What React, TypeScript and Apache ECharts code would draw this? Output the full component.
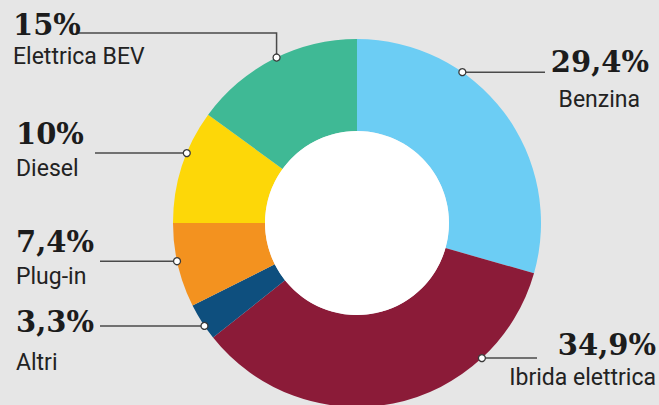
import React, { useEffect, useRef } from "react";
import * as echarts from "echarts";

// ---- data ----
const categories = ["Benzina", "Ibrida elettrica", "Altri", "Plug-in", "Diesel", "Elettrica BEV"];
const shares = [29.4, 34.9, 3.3, 7.4, 10, 15];
const shareLabels = ["29,4%", "34,9%", "3,3%", "7,4%", "10%", "15%"];

// ---- styles / layout ----
const colors = ["#6ccdf4", "#8b1b38", "#0e4f7e", "#f3921f", "#fdd708", "#3fb995"];
// where along each slice's outer arc the leader line is anchored (fraction of slice)
const anchorFractions = [0.33, 0.25, 0.38, 0.55, 0.62, 0.52];
type LabelLayout = {
  align: "left" | "right";
  lineX: number;
  pctX: number;
  nameX: number;
  pctY: number;
  nameY: number;
  elbowY?: number;
};
const labelLayouts: LabelLayout[] = [
  { align: "right", lineX: 545, pctX: 649, nameX: 640, pctY: 62, nameY: 99 },
  { align: "right", lineX: 537, pctX: 656, nameX: 656, pctY: 345, nameY: 377 },
  { align: "left", lineX: 100, pctX: 16, nameX: 16, pctY: 322, nameY: 362 },
  { align: "left", lineX: 100, pctX: 16, nameX: 16, pctY: 242, nameY: 276 },
  { align: "left", lineX: 95, pctX: 16, nameX: 16, pctY: 134, nameY: 168 },
  { align: "left", lineX: 77, pctX: 13, nameX: 13, pctY: 25, nameY: 56, elbowY: 33 },
];

const CENTER: [number, number] = [357, 223];
const R_OUT = 184;
const R_IN = 92;
const PCT_FONT = 'bold 29px "DejaVu Serif"';
const NAME_FONT = '23px Roboto';

export default function App() {
  const ref = useRef<HTMLDivElement>(null);

  useEffect(() => {
    document.body.style.margin = "0";
    const chart = echarts.init(ref.current!, null, { renderer: "svg" });
    chart.setOption({
      animation: false,
      backgroundColor: "#e6e6e6",
      series: [
        {
          type: "pie",
          center: CENTER,
          radius: [R_IN, R_OUT],
          startAngle: 90,
          clockwise: true,
          silent: true,
          label: { show: false },
          labelLine: { show: false },
          data: categories.map((c, i) => ({
            name: c,
            value: shares[i],
            itemStyle: { color: colors[i] },
          })),
        },
        {
          type: "pie",
          center: CENTER,
          radius: [0, R_IN],
          silent: true,
          label: { show: false },
          labelLine: { show: false },
          data: [{ name: "hole", value: 1, itemStyle: { color: "#ffffff" } }],
        },
      ],
    });

    let layouts: any[] = [];
    try {
      const data = (chart as any).getModel().getSeriesByIndex(0).getData();
      layouts = categories.map((_, i) => data.getItemLayout(i));
    } catch (e) {
      layouts = [];
    }

    const elements: any[] = [];
    categories.forEach((name, i) => {
      const lay = layouts[i];
      if (!lay) return;
      const a = lay.startAngle + (lay.endAngle - lay.startAngle) * anchorFractions[i];
      const px = lay.cx + lay.r * Math.cos(a);
      const py = lay.cy + lay.r * Math.sin(a);
      const L = labelLayouts[i];
      const pts =
        L.elbowY !== undefined
          ? [
              [L.lineX, L.elbowY],
              [px, L.elbowY],
              [px, py],
            ]
          : [
              [L.lineX, py],
              [px, py],
            ];
      elements.push({
        type: "polyline",
        z: 100,
        silent: true,
        shape: { points: pts },
        style: { stroke: "#4a4a4a", lineWidth: 1.5, fill: null },
      });
      elements.push({
        type: "circle",
        z: 101,
        silent: true,
        shape: { cx: px, cy: py, r: 3.5 },
        style: { fill: "#ffffff", stroke: "#3a3a3a", lineWidth: 1.3 },
      });
      elements.push({
        type: "text",
        z: 102,
        silent: true,
        x: L.pctX,
        y: L.pctY,
        style: {
          text: shareLabels[i],
          font: PCT_FONT,
          fill: "#1c1c1c",
          align: L.align,
          verticalAlign: "middle",
        },
      });
      elements.push({
        type: "text",
        z: 102,
        silent: true,
        x: L.nameX,
        y: L.nameY,
        style: {
          text: name,
          font: NAME_FONT,
          fill: "#222222",
          align: L.align,
          verticalAlign: "middle",
        },
      });
    });

    chart.setOption({ graphic: elements });

    return () => {
      chart.dispose();
    };
  }, []);

  return (
    <div
      ref={ref}
      style={{ position: "fixed", left: 0, top: 0, width: 659, height: 405 }}
    />
  );
}
